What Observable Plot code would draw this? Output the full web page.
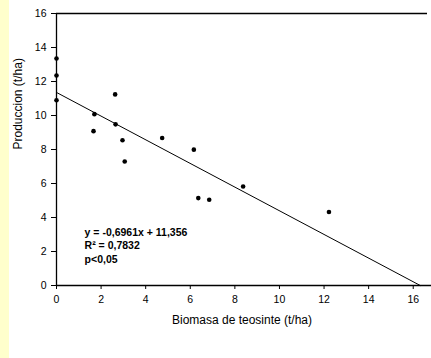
<!DOCTYPE html>
<html>
<head>
<meta charset="utf-8">
<script src="https://cdn.jsdelivr.net/npm/d3@7"></script>
<script src="https://cdn.jsdelivr.net/npm/@observablehq/plot@0.6"></script>
<style>
  html, body { margin: 0; padding: 0; }
  body { width: 431px; height: 358px; overflow: hidden;
         background: linear-gradient(to right, #ffffcc 0 9px, #ffffff 9px); }
  #chart svg { display: block; background: transparent; }
</style>
</head>
<body>
<div id="chart"></div>
<script>
// Data
const biomasa   = [0, 0, 0, 1.70, 1.66, 2.63, 2.65, 2.96, 3.06, 4.74, 6.16, 6.36, 6.85, 8.37, 12.22];
const produccion = [13.35, 12.35, 10.90, 10.08, 9.08, 11.24, 9.48, 8.54, 7.29, 8.68, 7.99, 5.14, 5.04, 5.82, 4.32];
const slope = -0.6961;
const intercept = 11.356;
const xTicks = [0, 2, 4, 6, 8, 10, 12, 14, 16];
const yTicks = [0, 2, 4, 6, 8, 10, 12, 14, 16];
const annotation = ["y = -0,6961x + 11,356", "R² = 0,7832", "p<0,05"];
const xLabel = "Biomasa de teosinte (t/ha)";
const yLabel = "Produccion (t/ha)";

const points = biomasa.map((x, i) => ({x, y: produccion[i]}));
const xEnd = -intercept / slope;
const fitLine = [{x: 0, y: intercept}, {x: xEnd, y: intercept + slope * xEnd}];

const font = "'Liberation Sans', Arial, Helvetica, sans-serif";

const chart = Plot.plot({
  width: 431,
  height: 358,
  marginLeft: 56,
  marginRight: 4,
  marginTop: 13,
  marginBottom: 73,
  style: {fontFamily: font, fontSize: "10.5px", color: "#000", background: "transparent", overflow: "visible"},
  x: {domain: [0, 16.64], ticks: xTicks},
  y: {domain: [0, 16], ticks: yTicks},
  marks: [
    Plot.axisX({ticks: xTicks, tickSize: 4, tickPadding: 6, fontSize: 10.5, label: null}),
    Plot.axisY({ticks: yTicks, tickSize: 5, tickPadding: 5, fontSize: 10.5, label: null}),
    Plot.text([xLabel], {frameAnchor: "bottom", dy: 38, text: d => d, fontSize: 12, fill: "#000"}),
    Plot.text([yLabel], {frameAnchor: "left", dx: -38, rotate: -90, text: d => d, fontSize: 12, fill: "#000"}),
    Plot.ruleX([0], {y1: 0, y2: 16, stroke: "#000", strokeWidth: 1.3}),
    Plot.ruleY([0], {x1: 0, x2: 16.82, stroke: "#000", strokeWidth: 1.3, clip: false}),
    Plot.ruleY([16], {x1: 0, x2: 16.64, stroke: "#000", strokeWidth: 1.5}),
    Plot.line(fitLine, {x: "x", y: "y", stroke: "#000", strokeWidth: 1}),
    Plot.dot(points, {x: "x", y: "y", r: 2.3, fill: "#000", stroke: "none"}),
    Plot.text([annotation.join("\n")], {x: 1.26, y: 3.49, text: d => d, textAnchor: "start",
      lineAnchor: "top", fontWeight: "bold", fontSize: 10.5, lineHeight: 1.28, fill: "#000"})
  ]
});
document.getElementById("chart").append(chart);
</script>
</body>
</html>
